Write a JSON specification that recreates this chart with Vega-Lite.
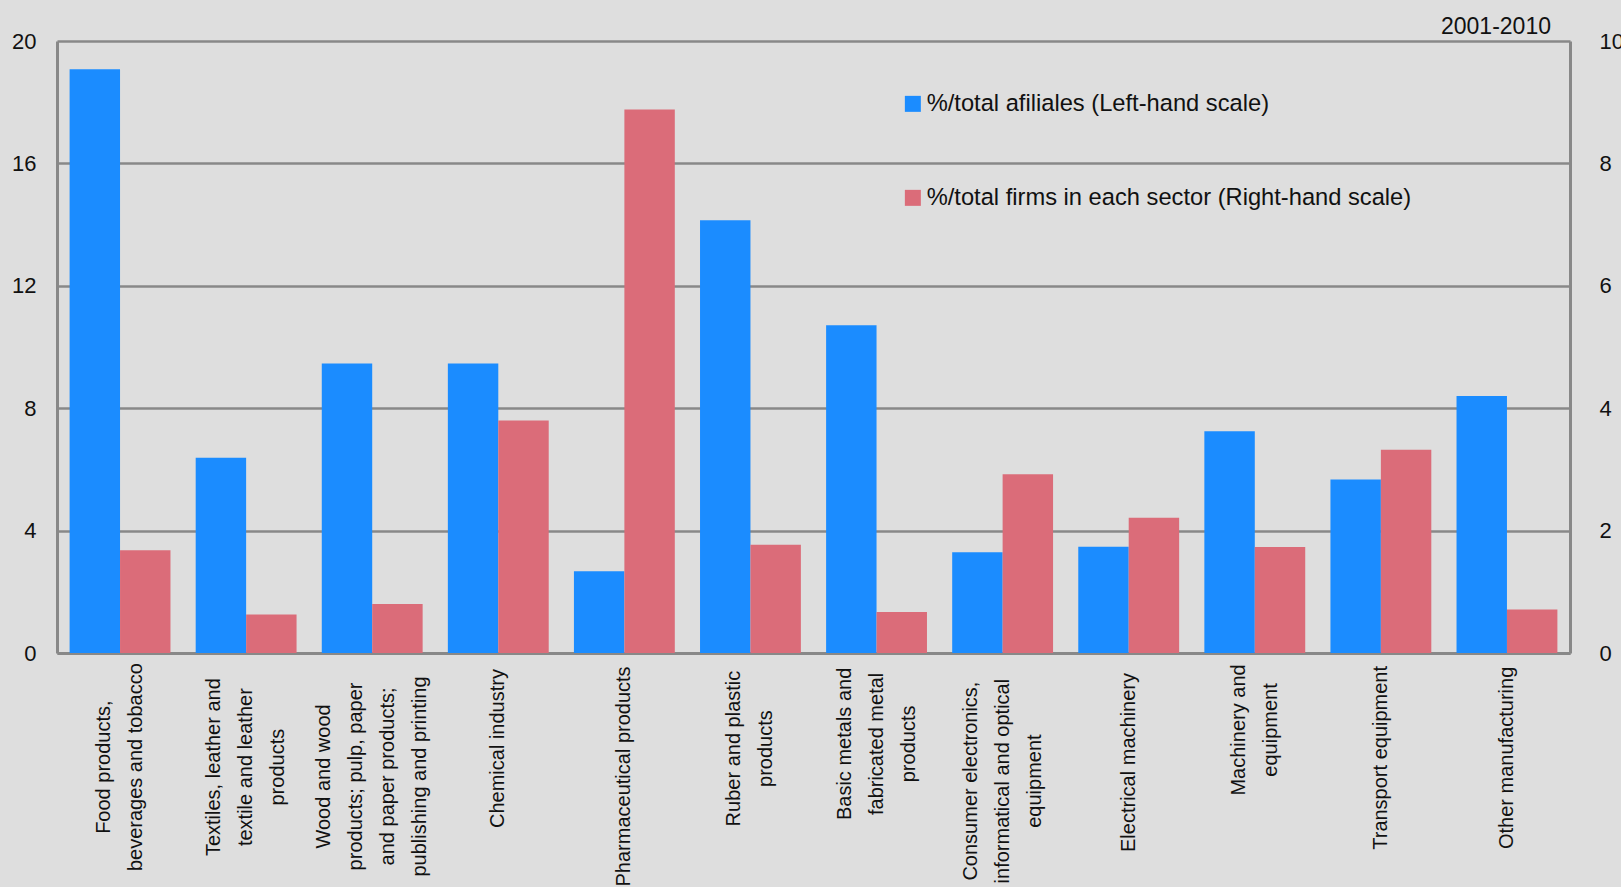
{
  "$schema": "https://vega.github.io/schema/vega-lite/v6.json",
  "width": 1513,
  "height": 612,
  "autosize": {"type": "none"},
  "padding": {"left": 57, "top": 41, "right": 51, "bottom": 234},
  "background": "#dedede",
  "config": {"view": {"stroke": null}, "font": "Liberation Sans"},
  "title": {
    "text": "2001-2010",
    "anchor": "end",
    "frame": "group",
    "dx": -19,
    "offset": -9,
    "fontSize": 23,
    "fontWeight": "normal",
    "font": "Liberation Sans",
    "color": "#111111"
  },
  "data": {
    "values": [
      {"sector": "Food products,|beverages and tobacco", "affiliates": 19.08, "firms": 1.68},
      {"sector": "Textiles, leather and|textile and leather|products", "affiliates": 6.38, "firms": 0.63},
      {"sector": "Wood and wood|products; pulp, paper|and paper products;|publishing and printing", "affiliates": 9.46, "firms": 0.8},
      {"sector": "Chemical industry", "affiliates": 9.46, "firms": 3.8},
      {"sector": "Pharmaceutical products", "affiliates": 2.67, "firms": 8.88},
      {"sector": "Ruber and plastic|products", "affiliates": 14.14, "firms": 1.77},
      {"sector": "Basic metals and|fabricated metal|products", "affiliates": 10.71, "firms": 0.67},
      {"sector": "Consumer electronics,|informatical and optical|equipment", "affiliates": 3.29, "firms": 2.92},
      {"sector": "Electrical machinery", "affiliates": 3.47, "firms": 2.21},
      {"sector": "Machinery and|equipment", "affiliates": 7.25, "firms": 1.73},
      {"sector": "Transport equipment", "affiliates": 5.67, "firms": 3.32},
      {"sector": "Other manufacturing", "affiliates": 8.4, "firms": 0.71}
    ]
  },
  "encoding": {
    "x": {
      "field": "sector",
      "type": "nominal",
      "sort": null,
      "scale": {"paddingInner": 0.2, "paddingOuter": 0.1},
      "axis": {
        "title": null,
        "labelAngle": -90,
        "labelAlign": "center",
        "labelExpr": "split(datum.label, '|')",
        "labelFont": "Liberation Sans",
        "labelFontSize": 20,
        "labelLineHeight": 32,
        "labelColor": "#111111",
        "labelLimit": 0,
        "labelPadding": {"expr": "16 + 4.65 * max(length(split(datum.value, '|')[0]), length(split(datum.value, '|')[1] || ''), length(split(datum.value, '|')[2] || ''), length(split(datum.value, '|')[3] || ''))"},
        "labelOffset": {"expr": "-(length(split(datum.value, '|')) - 1) * 16"},
        "ticks": false,
        "domainColor": "#888888",
        "domainWidth": 3
      }
    }
  },
  "layer": [
    {
      "mark": {"type": "bar"},
      "encoding": {
        "xOffset": {
          "datum": "%/total afiliales (Left-hand scale)",
          "scale": {
            "domain": ["%/total afiliales (Left-hand scale)", "%/total firms in each sector (Right-hand scale)"],
            "paddingInner": 0,
            "paddingOuter": 0
          }
        },
        "y": {
          "field": "affiliates",
          "type": "quantitative",
          "scale": {"domain": [0, 20], "nice": false},
          "axis": {
            "title": null,
            "orient": "left",
            "values": [0, 4, 8, 12, 16, 20],
            "labelFontSize": 22,
            "labelColor": "#111111",
            "labelPadding": 21,
            "ticks": false,
            "domainColor": "#888888",
            "domainWidth": 3,
            "grid": true,
            "gridColor": "#888888",
            "gridWidth": 2.5
          }
        },
        "color": {
          "datum": "%/total afiliales (Left-hand scale)",
          "scale": {
            "domain": ["%/total afiliales (Left-hand scale)", "%/total firms in each sector (Right-hand scale)"],
            "range": ["#1b8cff", "#db6c79"]
          },
          "legend": {
            "title": null,
            "orient": "none",
            "legendX": 844,
            "legendY": 51,
            "direction": "vertical",
            "symbolType": "square",
            "symbolSize": 256,
            "symbolStrokeWidth": 0,
            "labelFont": "Liberation Sans",
            "labelFontSize": 23.7,
            "labelColor": "#111111",
            "labelOffset": 2,
            "labelLimit": 0,
            "rowPadding": 69
          }
        }
      }
    },
    {
      "mark": {"type": "bar"},
      "encoding": {
        "xOffset": {"datum": "%/total firms in each sector (Right-hand scale)"},
        "y": {
          "field": "firms",
          "type": "quantitative",
          "scale": {"domain": [0, 10], "nice": false},
          "axis": {
            "title": null,
            "orient": "right",
            "values": [0, 2, 4, 6, 8, 10],
            "labelFontSize": 22,
            "labelColor": "#111111",
            "labelPadding": 29,
            "ticks": false,
            "domainColor": "#888888",
            "domainWidth": 3,
            "grid": false
          }
        },
        "color": {"datum": "%/total firms in each sector (Right-hand scale)"}
      }
    }
  ],
  "resolve": {"scale": {"y": "independent"}, "axis": {"y": "independent"}}
}
